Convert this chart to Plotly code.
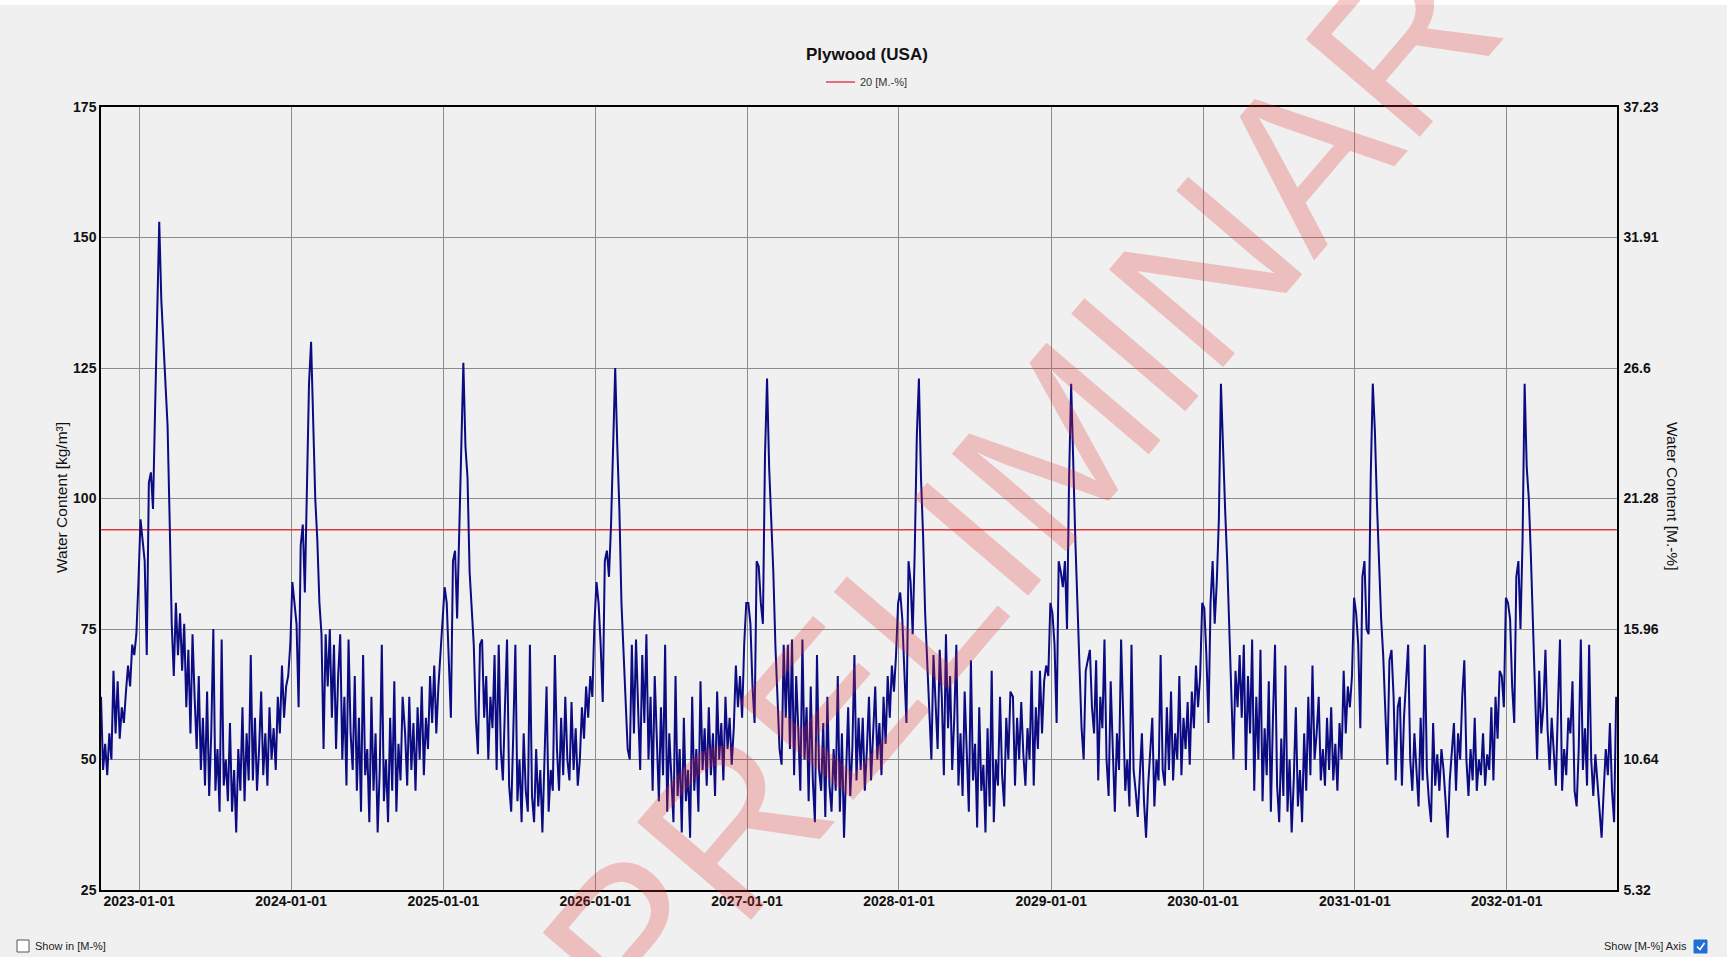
import pandas as pd
import plotly.graph_objects as go

# Material density used to convert kg/m³ into mass-percent
DENSITY = 470
THRESHOLD_PCT = 20

# Water content [kg/m³], one list per season (Oct 1 onward, 5-day steps)
SEASON_STARTS = [f"{y}-10-01" for y in range(2022, 2032)]

wc_2022 = [62, 48, 53, 47, 55, 50, 67,
           55, 65, 54, 60, 57, 63,
           68, 64, 72, 70, 74, 84,
           96, 92, 88, 70, 103, 105,
           98, 117, 135, 153, 138, 130,
           124, 114, 96, 76, 66, 80,
           70, 78, 67, 76, 60, 71,
           55, 74, 62, 52, 66, 48,
           58, 45, 63, 43, 55, 75,
           44, 52, 40, 73, 45, 50,
           42, 57, 40, 48, 36, 52,
           44, 60, 42, 55, 46, 70]
wc_2023 = [46, 58, 44, 52, 63, 47, 55,
           45, 60, 50, 56, 48, 62,
           55, 68, 58, 64, 66, 72,
           84, 80, 76, 60, 91, 95,
           82, 102, 122, 130, 116, 100,
           92, 80, 74, 52, 74, 64,
           75, 58, 72, 52, 66, 74,
           50, 62, 45, 73, 55, 48,
           66, 44, 58, 40, 70, 47,
           52, 38, 62, 44, 55, 36,
           48, 72, 42, 50, 38, 58,
           44, 65, 40, 53, 46, 62]
wc_2024 = [55, 45, 62, 48, 57, 44, 60,
           50, 64, 47, 58, 52, 66,
           57, 68, 55, 64, 70, 76,
           83, 80, 70, 58, 88, 90,
           77, 92, 112, 126, 110, 104,
           86, 78, 72, 58, 51, 72,
           73, 58, 66, 50, 62, 56,
           70, 48, 72, 52, 46, 60,
           73, 45, 40, 55, 72, 42,
           50, 38, 55, 44, 40, 72,
           43, 38, 52, 41, 48, 36,
           50, 64, 40, 48, 44, 70]
wc_2025 = [52, 44, 58, 47, 62, 50, 46,
           61, 48, 56, 45, 50, 60,
           54, 64, 58, 66, 62, 76,
           84, 80, 72, 61, 88, 90,
           85, 95, 110, 125, 110, 98,
           80, 70, 59, 52, 50, 72,
           55, 73, 60, 48, 70, 57,
           74, 50, 62, 44, 66, 52,
           42, 60, 47, 72, 40, 55,
           45, 38, 66, 43, 52, 36,
           58, 42, 48, 35, 62, 44,
           52, 40, 65, 48, 56, 45]
wc_2026 = [60, 47, 55, 43, 63, 50, 57,
           46, 62, 52, 58, 49, 56,
           68, 60, 66, 58, 72, 80,
           80, 76, 64, 57, 88, 87,
           80, 76, 108, 123, 106, 96,
           86, 72, 60, 52, 49, 72,
           58, 72, 52, 73, 47, 66,
           56, 44, 73, 50, 60, 42,
           64, 46, 38, 70, 48, 44,
           57, 39, 62, 45, 40, 52,
           44, 66, 40, 55, 35, 48,
           60, 43, 52, 70, 46, 58]
wc_2027 = [48, 58, 44, 52, 62, 46, 55,
           64, 50, 57, 47, 62, 53,
           66, 58, 68, 63, 70, 80,
           82, 77, 66, 57, 88, 84,
           74, 90, 112, 123, 104, 93,
           78, 68, 58, 50, 70, 60,
           52, 71, 62, 47, 74, 56,
           66, 48, 58, 72, 45, 55,
           43, 63, 50, 40, 69, 46,
           53, 37, 60, 44, 49, 36,
           56, 41, 67, 38, 50, 45,
           62, 47, 41, 58, 50, 63]
wc_2028 = [62, 45, 58, 50, 61, 51, 45,
           56, 50, 67, 45, 60, 52,
           67, 55, 65, 68, 66, 80,
           78, 72, 57, 88, 86, 83,
           88, 75, 104, 122, 106, 92,
           80, 68, 56, 50, 67, 69,
           71, 60, 55, 69, 46, 62,
           56, 73, 50, 43, 65, 52,
           40, 55, 48, 73, 58, 44,
           50, 41, 72, 48, 44, 39,
           47, 55, 42, 35, 45, 52,
           58, 41, 50, 46, 70, 48]
wc_2029 = [45, 60, 48, 63, 46, 55, 50,
           66, 47, 58, 52, 61, 49,
           63, 56, 68, 60, 66, 80,
           79, 70, 57, 80, 88, 76,
           84, 96, 122, 108, 98, 88,
           74, 62, 50, 67, 60, 70,
           58, 72, 48, 66, 55, 73,
           44, 62, 50, 71, 42, 56,
           47, 65, 40, 58, 72, 45,
           38, 54, 43, 68, 40, 50,
           36, 46, 60, 41, 48, 38,
           55, 44, 62, 47, 68, 50]
wc_2030 = [55, 62, 46, 52, 45, 58, 48,
           60, 46, 53, 44, 57, 50,
           67, 55, 64, 60, 66, 81,
           78, 72, 56, 85, 88, 75,
           74, 104, 122, 113, 99, 88,
           77, 70, 58, 49, 69, 71,
           62, 46, 60, 62, 45, 58,
           65, 72, 50, 44, 55, 48,
           41, 58, 46, 72, 48, 42,
           38, 57, 45, 51, 44, 52,
           48, 42, 35, 46, 52, 57,
           44, 55, 50, 62, 69, 50]
wc_2031 = [43, 52, 46, 58, 44, 50, 47,
           55, 45, 51, 48, 60, 46,
           62, 54, 67, 66, 60, 81,
           80, 77, 64, 57, 85, 88,
           75, 92, 122, 106, 100, 89,
           76, 62, 50, 67, 55, 60,
           71, 56, 48, 58, 52, 45,
           60, 73, 44, 52, 47, 58,
           55, 65, 44, 41, 52, 73,
           48, 56, 45, 72, 50, 43,
           51, 46, 40, 35, 44, 52,
           47, 57, 44, 38, 62]

SEASONS = [wc_2022, wc_2023, wc_2024, wc_2025, wc_2026,
           wc_2027, wc_2028, wc_2029, wc_2030, wc_2031]

YEAR_TICKS = [f"{y}-01-01" for y in range(2023, 2033)]
LEFT_TICKS = [25, 50, 75, 100, 125, 150, 175]
X_RANGE = ["2022-10-01", "2032-09-22"]

dates, water = [], []
for start, vals in zip(SEASON_STARTS, SEASONS):
    dates.extend(pd.date_range(start, periods=len(vals), freq="5D"))
    water.extend(vals)

# right axis in mass-percent
pct_ticks = [v * 100 / DENSITY for v in LEFT_TICKS]
pct_text = [f"{t:.2f}".rstrip("0").rstrip(".") for t in pct_ticks]
threshold_kg = THRESHOLD_PCT * DENSITY / 100

W, H = 1727, 957
L, R, T, B = 101, 110, 107, 67
PW, PH = W - L - R, H - T - B


def fx(px):
    return (px - L) / PW


def fy(py):
    return (H - B - py) / PH


FONT = "Liberation Sans, Arial, sans-serif"
BG = "#f0f0f0"
GRID = "#8c8c8c"

fig = go.Figure()
fig.add_trace(go.Scatter(
    x=X_RANGE, y=[threshold_kg, threshold_kg], mode="lines",
    line=dict(color="#e03a3e", width=1.5), name="20 [M.-%]",
    hoverinfo="skip", showlegend=False))
fig.add_trace(go.Scatter(
    x=dates, y=water, mode="lines",
    line=dict(color="#0b0b82", width=2), name="Water Content",
    showlegend=False))
fig.add_trace(go.Scatter(
    x=X_RANGE, y=[pct_ticks[0], pct_ticks[-1]], mode="lines", yaxis="y2",
    line=dict(width=0), opacity=0, hoverinfo="skip", showlegend=False))

tick_font = dict(family=FONT, size=14, color="#111111")

fig.update_layout(
    width=W, height=H, autosize=False,
    margin=dict(l=L, r=R, t=T, b=B, pad=0),
    paper_bgcolor=BG, plot_bgcolor=BG,
    font=dict(family=FONT, color="#111111"),
    showlegend=False,
    xaxis=dict(
        type="date", range=X_RANGE,
        tickmode="array", tickvals=YEAR_TICKS,
        ticktext=[f"<b>{t}</b>" for t in YEAR_TICKS],
        tickfont=tick_font, ticks="", ticklabelstandoff=-3,
        showgrid=True, gridcolor=GRID, gridwidth=1,
        showline=True, linecolor="#000000", linewidth=1.5, mirror=True,
        zeroline=False),
    yaxis=dict(
        range=[25, 175], tickmode="array", tickvals=LEFT_TICKS,
        ticktext=[f"<b>{v}</b>" for v in LEFT_TICKS],
        tickfont=tick_font, ticks="", ticklabelstandoff=0,
        showgrid=True, gridcolor=GRID, gridwidth=1,
        showline=True, linecolor="#000000", linewidth=1.5, mirror=True,
        zeroline=False),
    yaxis2=dict(
        overlaying="y", side="right",
        range=[pct_ticks[0], pct_ticks[-1]], tickmode="array",
        tickvals=pct_ticks, ticktext=[f"<b>{t}</b>" for t in pct_text],
        tickfont=tick_font, ticks="", ticklabelstandoff=2,
        showgrid=False, zeroline=False,
        showline=True, linecolor="#000000", linewidth=1.5),
)

annotations = [
    dict(text="<b>Plywood (USA)</b>", x=fx(867), y=fy(55),
         font=dict(family=FONT, size=17, color="#111111")),
    dict(text="20 [M.-%]", x=fx(858), y=fy(82), xanchor="left",
         font=dict(family=FONT, size=11, color="#333333")),
    dict(text="Water Content [kg/m³]", x=fx(61), y=fy(498), textangle=-90,
         font=dict(family=FONT, size=15.5, color="#111111")),
    dict(text="Water Content [M.-%]", x=fx(1673), y=fy(496), textangle=90,
         font=dict(family=FONT, size=15.5, color="#111111")),
    dict(text="Show in [M-%]", x=fx(33), y=fy(946), xanchor="left",
         font=dict(family=FONT, size=11, color="#222222")),
    dict(text="Show [M-%] Axis", x=fx(1689), y=fy(946), xanchor="right",
         font=dict(family=FONT, size=11, color="#222222")),
    dict(text="PRELIMINARY", x=fx(1066), y=fy(434), textangle=-49.5,
         font=dict(family=FONT, size=218, color="rgba(228,45,45,0.26)")),
]
for a in annotations:
    a.setdefault("xanchor", "center")
    a.update(xref="paper", yref="paper", yanchor="middle", showarrow=False)
fig.update_layout(annotations=annotations)

shapes = [
    # thin white strip along the top edge of the window
    dict(type="rect", x0=fx(0), x1=fx(W), y0=fy(5), y1=fy(0),
         fillcolor="#ffffff", line=dict(width=0), layer="below"),
    # legend sample line
    dict(type="line", x0=fx(826), x1=fx(855), y0=fy(82), y1=fy(82),
         line=dict(color="#ec6a7e", width=2)),
    # unchecked box
    dict(type="rect", x0=fx(17), x1=fx(29), y0=fy(952), y1=fy(940),
         fillcolor="#ffffff", line=dict(color="#555555", width=1)),
    # checked box
    dict(type="rect", x0=fx(1694), x1=fx(1707), y0=fy(953), y1=fy(940),
         fillcolor="#1f6fd6", line=dict(color="#1f6fd6", width=1)),
    dict(type="path",
         path=f"M {fx(1697)},{fy(946.5)} L {fx(1700)},{fy(949.5)} "
              f"L {fx(1704.5)},{fy(943)}",
         line=dict(color="#ffffff", width=1.6)),
]
for s in shapes:
    s.update(xref="paper", yref="paper")
fig.update_layout(shapes=shapes)

fig.write_html("out.html")
